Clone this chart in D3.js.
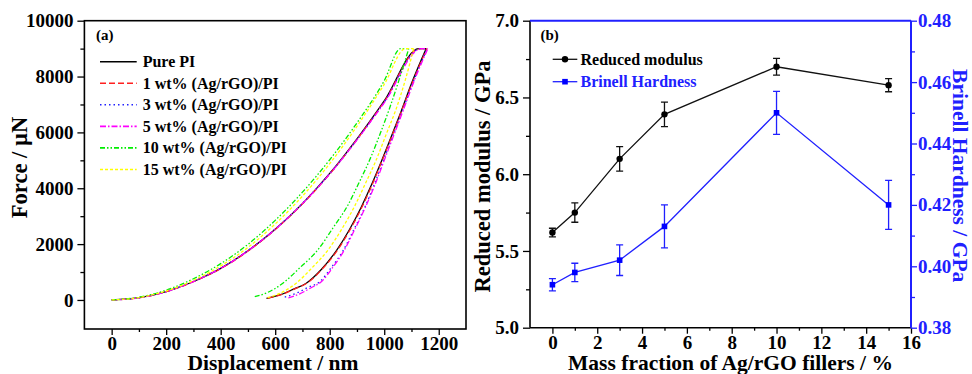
<!DOCTYPE html>
<html><head><meta charset="utf-8">
<script src="https://cdn.jsdelivr.net/npm/d3@7"></script>
<style>
html,body{margin:0;padding:0;background:#fff;}
svg{display:block;font-family:"Liberation Serif","Times New Roman",serif;font-weight:bold;}
</style></head><body>
<svg id="chart" width="972" height="374"></svg>
<script>
// ---------- Panel (a): load-displacement curves ----------
const seriesLabels = ["Pure PI", "1 wt% (Ag/rGO)/PI", "3 wt% (Ag/rGO)/PI", "5 wt% (Ag/rGO)/PI", "10 wt% (Ag/rGO)/PI", "15 wt% (Ag/rGO)/PI"];
// [displacement nm, force µN]
const loadingPure = [[0,0],[100,80],[200,300],[300,660],[400,1130],[500,1760],[600,2530],[700,3450],[800,4530],[900,5770],[1000,7130],[1127,9000],[1154,9000]];
const loading1 = [[0,0],[100,75],[200,295],[300,655],[400,1120],[500,1750],[600,2520],[700,3440],[800,4510],[900,5750],[1000,7100],[1130,9000],[1156,9000]];
const loading3 = [[0,0],[100,78],[200,300],[300,665],[400,1140],[500,1770],[600,2540],[700,3460],[800,4520],[900,5740],[1000,7080],[1133,9000],[1158,9000]];
const loading5 = [[0,0],[100,76],[200,298],[300,660],[400,1130],[500,1760],[600,2530],[700,3450],[800,4510],[900,5730],[1000,7060],[1137,9000],[1160,9000]];
const loading10 = [[0,0],[100,95],[200,350],[300,760],[400,1300],[500,1990],[600,2850],[700,3860],[800,5020],[900,6340],[1000,7850],[1060,9000],[1090,9000]];
const loading15 = [[0,0],[100,85],[200,320],[300,700],[400,1220],[500,1880],[600,2720],[700,3720],[800,4880],[900,6220],[1000,7720],[1078,9000],[1108,9000]];

const unloadingPure = [[568,60],[620,190],[670,400],[714,600],[770,1100],[824,1760],[870,2480],[916,3330],[950,4050],[989,4950],[1030,5950],[1062,6750],[1100,7750],[1154,9000]];
const unloading1 = [[572,60],[622,190],[672,400],[716,600],[772,1100],[826,1750],[872,2470],[918,3320],[952,4040],[990,4940],[1031,5940],[1063,6750],[1102,7750],[1156,9000]];
const unloading3 = [[635,100],[680,250],[720,450],[763,650],[805,1150],[848,1750],[890,2550],[928,3300],[960,4050],[995,4950],[1035,5950],[1068,6800],[1110,7900],[1158,9000]];
const unloading5 = [[648,70],[690,220],[730,430],[770,660],[810,1150],[852,1760],[893,2550],[930,3300],[963,4050],[998,4950],[1037,5950],[1070,6800],[1112,7900],[1160,9000]];
const unloading10 = [[525,118],[570,260],[628,600],[690,1150],[757,1800],[810,2550],[867,3400],[905,4150],[946,5000],[985,5950],[1019,6850],[1055,7900],[1090,9000]];
const unloading15 = [[572,80],[620,250],[677,600],[735,1150],[793,1780],[845,2550],[891,3350],[930,4150],[970,5000],[1008,5950],[1044,6850],[1078,7900],[1108,9000]];

const displacementTicks = [0,200,400,600,800,1000,1200];
const displacementMinor = [100,300,500,700,900,1100];
const forceTicks = [0,2000,4000,6000,8000,10000];
const forceMinor = [1000,3000,5000,7000,9000];

// ---------- Panel (b): modulus & hardness ----------
const massFraction = [0,1,3,5,10,15];
const modulus = [5.62,5.75,6.10,6.39,6.70,6.58];
const modulusErr = [0.028,0.063,0.08,0.08,0.054,0.043];
const hardness = [0.394,0.398,0.402,0.413,0.450,0.420];
const hardnessErr = [0.002,0.003,0.005,0.007,0.007,0.008];
const massTicks = [0,2,4,6,8,10,12,14,16];
const massMinor = [1,3,5,7,9,11,13,15];
const modulusTicks = [5.0,5.5,6.0,6.5,7.0];
const modulusMinor = [5.25,5.75,6.25,6.75];
const hardnessTicks = [0.38,0.40,0.42,0.44,0.46,0.48];
const hardnessMinor = [0.39,0.41,0.43,0.45,0.47];

// ---------- styles ----------
const seriesColors = ["#000000","#ff2020","#2020ff","#ff00ff","#00ee00","#ffff00"];
const seriesDash = [null,"6,3","1.5,3","6,2,1.5,2","5,2,1.5,2,1.5,2","3,2"];
const BLUE = "#2020ff";

const svg = d3.select("#chart");
const loadingCurves = [loadingPure,loading1,loading3,loading5,loading10,loading15];
const unloadingCurves = [unloadingPure,unloading1,unloading3,unloading5,unloading10,unloading15];

// ===== Panel (a) =====
const ax = {l:84.4, r:466, t:20.7, b:329};
const xA = d3.scaleLinear().domain([-100,1300]).range([ax.l, ax.r]);
const yA = d3.scaleLinear().domain([-1040,10000]).range([ax.b, ax.t]);

function styleAxis(g, size, color) {
  g.attr("font-size", size).attr("font-family", null).attr("font-weight","bold");
  g.select(".domain").remove();
  g.selectAll("line").attr("stroke", color).attr("stroke-width", 1.3);
  g.selectAll("text").attr("fill", color);
}

const gA = svg.append("g");
gA.append("g").attr("transform",`translate(0,${ax.b})`)
  .call(d3.axisBottom(xA).tickValues(displacementMinor).tickSize(3).tickFormat(""))
  .call(g=>styleAxis(g,19,"#000"));
gA.append("g").attr("transform",`translate(0,${ax.b})`)
  .call(d3.axisBottom(xA).tickValues(displacementTicks).tickSize(6).tickPadding(2).tickFormat(d3.format("d")))
  .call(g=>styleAxis(g,19,"#000"));
gA.append("g").attr("transform",`translate(${ax.l},0)`)
  .call(d3.axisLeft(yA).tickValues(forceMinor).tickSize(4).tickFormat(""))
  .call(g=>styleAxis(g,19,"#000"));
gA.append("g").attr("transform",`translate(${ax.l},0)`)
  .call(d3.axisLeft(yA).tickValues(forceTicks).tickSize(7).tickPadding(4).tickFormat(d3.format("d")))
  .call(g=>styleAxis(g,19,"#000"));

const lineA = d3.line().x(d=>xA(d[0])).y(d=>yA(d[1])).curve(d3.curveMonotoneX);
const curvesG = gA.append("g");
[0,1,2,3,4,5].forEach(i=>{
  [loadingCurves[i], unloadingCurves[i]].forEach(pts=>{
    curvesG.append("path").attr("d", lineA(pts)).attr("fill","none")
      .attr("stroke", seriesColors[i]).attr("stroke-width",1.3)
      .attr("stroke-dasharray", seriesDash[i]);
  });
});
gA.append("rect").attr("x",ax.l).attr("y",ax.t).attr("width",ax.r-ax.l).attr("height",ax.b-ax.t)
  .attr("fill","none").attr("stroke","#000").attr("stroke-width",1.6);

gA.append("text").attr("x",96).attr("y",39.5).attr("font-size",15).text("(a)");
seriesLabels.forEach((lab,i)=>{
  const yy = 61.7 + i*21.55;
  gA.append("line").attr("x1",100).attr("x2",136.7).attr("y1",yy).attr("y2",yy)
    .attr("stroke",seriesColors[i]).attr("stroke-width",1.6).attr("stroke-dasharray",seriesDash[i]);
  gA.append("text").attr("x",142.7).attr("y",yy+5.5).attr("font-size",16).text(lab);
});
gA.append("text").attr("x",273).attr("y",370).attr("text-anchor","middle").attr("font-size",21.5).text("Displacement / nm");
gA.append("text").attr("transform","translate(27,167.5) rotate(-90)").attr("text-anchor","middle").attr("font-size",22.5).text("Force / µN");

// ===== Panel (b) =====
const bx = {l:530, r:911, t:20.7, b:327.7};
const xB = d3.scaleLinear().domain([-1,16]).range([bx.l, bx.r]);
const yB = d3.scaleLinear().domain([5,7]).range([bx.b, bx.t]);
const yH = d3.scaleLinear().domain([0.38,0.48]).range([bx.b, bx.t]);
const gB = svg.append("g");

gB.append("g").attr("transform",`translate(0,${bx.b})`)
  .call(d3.axisBottom(xB).tickValues(massMinor).tickSize(3).tickFormat(""))
  .call(g=>styleAxis(g,19,"#000"));
gB.append("g").attr("transform",`translate(0,${bx.b})`)
  .call(d3.axisBottom(xB).tickValues(massTicks).tickSize(6).tickPadding(2).tickFormat(d3.format("d")))
  .call(g=>styleAxis(g,19,"#000"));
gB.append("g").attr("transform",`translate(${bx.l},0)`)
  .call(d3.axisLeft(yB).tickValues(modulusMinor).tickSize(4).tickFormat(""))
  .call(g=>styleAxis(g,19,"#000"));
gB.append("g").attr("transform",`translate(${bx.l},0)`)
  .call(d3.axisLeft(yB).tickValues(modulusTicks).tickSize(7).tickPadding(4).tickFormat(d3.format(".1f")))
  .call(g=>styleAxis(g,19,"#000"));
gB.append("g").attr("transform",`translate(${bx.r},0)`)
  .call(d3.axisRight(yH).tickValues(hardnessMinor).tickSize(4).tickFormat(""))
  .call(g=>styleAxis(g,19,BLUE));
gB.append("g").attr("transform",`translate(${bx.r},0)`)
  .call(d3.axisRight(yH).tickValues(hardnessTicks).tickSize(6).tickPadding(1).tickFormat(d3.format(".2f")))
  .call(g=>styleAxis(g,19,BLUE));

// frame
gB.append("line").attr("x1",bx.l).attr("x2",bx.l).attr("y1",bx.t).attr("y2",bx.b).attr("stroke","#000").attr("stroke-width",1.6);
gB.append("line").attr("x1",bx.l).attr("x2",bx.r).attr("y1",bx.b).attr("y2",bx.b).attr("stroke","#000").attr("stroke-width",1.6);
gB.append("line").attr("x1",bx.l).attr("x2",bx.r).attr("y1",bx.t).attr("y2",bx.t).attr("stroke",BLUE).attr("stroke-width",2);
gB.append("line").attr("x1",bx.r).attr("x2",bx.r).attr("y1",bx.t).attr("y2",bx.b).attr("stroke",BLUE).attr("stroke-width",2);

// modulus series
const modLine = d3.line().x((d,i)=>xB(massFraction[i])).y(d=>yB(d));
gB.append("path").attr("d",modLine(modulus)).attr("fill","none").attr("stroke","#111").attr("stroke-width",1.3);
massFraction.forEach((m,i)=>{
  const cx = xB(m), y1 = yB(modulus[i]-modulusErr[i]), y2 = yB(modulus[i]+modulusErr[i]);
  gB.append("path").attr("d",`M${cx},${y1}V${y2}M${cx-3.5},${y1}H${cx+3.5}M${cx-3.5},${y2}H${cx+3.5}`)
    .attr("stroke","#111").attr("stroke-width",1.3).attr("fill","none");
  gB.append("circle").attr("cx",cx).attr("cy",yB(modulus[i])).attr("r",3.2).attr("fill","#000");
});
// hardness series
const hLine = d3.line().x((d,i)=>xB(massFraction[i])).y(d=>yH(d));
gB.append("path").attr("d",hLine(hardness)).attr("fill","none").attr("stroke",BLUE).attr("stroke-width",1.3);
massFraction.forEach((m,i)=>{
  const cx = xB(m), y1 = yH(hardness[i]-hardnessErr[i]), y2 = yH(hardness[i]+hardnessErr[i]);
  gB.append("path").attr("d",`M${cx},${y1}V${y2}M${cx-3.5},${y1}H${cx+3.5}M${cx-3.5},${y2}H${cx+3.5}`)
    .attr("stroke",BLUE).attr("stroke-width",1.3).attr("fill","none");
  gB.append("rect").attr("x",cx-2.8).attr("y",yH(hardness[i])-2.8).attr("width",5.6).attr("height",5.6).attr("fill","#0000ff");
});

// legend (b)
gB.append("text").attr("x",540.5).attr("y",39.5).attr("font-size",15).text("(b)");
gB.append("line").attr("x1",552.7).attr("x2",577.3).attr("y1",59.3).attr("y2",59.3).attr("stroke","#111").attr("stroke-width",1.3);
gB.append("circle").attr("cx",565).attr("cy",59.3).attr("r",3.2).attr("fill","#000");
gB.append("text").attr("x",580.5).attr("y",64.8).attr("font-size",16).text("Reduced modulus");
gB.append("line").attr("x1",552.7).attr("x2",577.3).attr("y1",81.7).attr("y2",81.7).attr("stroke",BLUE).attr("stroke-width",1.3);
gB.append("rect").attr("x",562.2).attr("y",78.9).attr("width",5.6).attr("height",5.6).attr("fill","#0000ff");
gB.append("text").attr("x",580.5).attr("y",87.2).attr("font-size",16).attr("fill",BLUE).text("Brinell Hardness");

gB.append("text").attr("x",730.5).attr("y",370).attr("text-anchor","middle").attr("font-size",21.5).text("Mass fraction of Ag/rGO fillers / %");
gB.append("text").attr("transform","translate(490,176.5) rotate(-90)").attr("text-anchor","middle").attr("font-size",22.5).text("Reduced modulus / GPa");
gB.append("text").attr("transform","translate(953,175.7) rotate(90)").attr("text-anchor","middle").attr("font-size",21.5).attr("fill",BLUE).text("Brinell Hardness / GPa");
</script>
</body></html>
